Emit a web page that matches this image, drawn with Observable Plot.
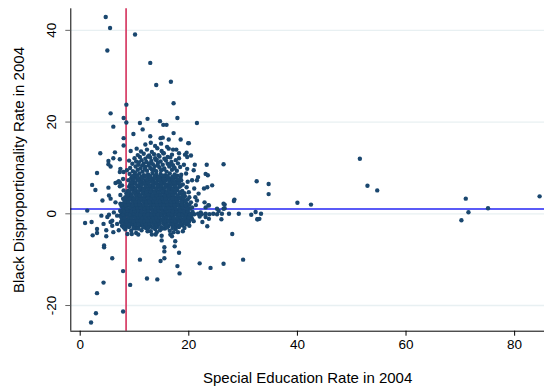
<!DOCTYPE html>
<html><head><meta charset="utf-8">
<script src="https://cdn.jsdelivr.net/npm/d3@7"></script>
<script src="https://cdn.jsdelivr.net/npm/@observablehq/plot@0.6"></script>
<style>
html,body{margin:0;padding:0;background:#fff;}
#chart{width:544px;height:389px;}
</style></head><body><div id="chart"></div>
<script>
const xTicks = [0, 20, 40, 60, 80];
const yTicks = [-20, 0, 20, 40];
const xTitle = "Special Education Rate in 2004";
const yTitle = "Black Disproportionality Rate in 2004";
const refX = 8.45;   // vertical reference line
const refY = 1.05;   // horizontal reference line

// points above / right of the main cloud
const upperPts = [[4.7,42.9],[5.5,40.5],[10.1,39.1],[5.0,35.6],[12.9,32.9],[16.7,28.8],[14.0,28.1],[8.5,23.8],[17.2,24.1],[5.6,21.9],[8.0,20.9],[12.4,20.7],[17.9,20.9],[8.5,19.9],[11.0,19.8],[14.7,20.2],[15.3,19.4],[15.9,19.4],[21.5,19.8],[6.1,19.0],[11.5,18.4],[9.8,17.4],[8.0,16.5],[12.9,16.9],[14.8,16.5],[15.2,16.6],[16.3,16.2],[18.5,16.2],[17.2,17.6],[19.9,15.4],[8.0,14.9],[3.7,13.2],[6.4,13.4],[5.2,11.5],[6.1,12.1],[7.3,11.9],[5.6,10.3],[5.2,10.8],[26.4,10.8],[32.5,7.1],[3.1,8.9],[2.2,6.3],[2.8,5.2],[4.1,2.9],[5.2,5.7],[5.3,4.0],[1.3,0.7],[6.5,6.7],[7.3,6.8],[7.3,9.1],[23.1,8.7],[23.5,8.4],[22.8,5.5],[24.3,6.2],[21.1,10.7],[21.7,8.0],[21.5,7.3],[28.4,3.1],[22.9,2.5],[23.6,1.9],[26.6,2.0],[26.6,1.2],[31.5,-0.2],[32.3,0.4],[33.0,-1.1],[33.3,0],[32.7,-1.2],[23.3,10.7],[20.4,12.7],[19.6,13.3],[19.3,12.9],[18.2,13.2],[18.2,12.1],[19.7,12.4],[19.1,10.7],[17.7,14.0],[17.1,14.0],[16.3,14.2],[15.3,13.2],[16.1,12.4],[20.0,15.4],[34.7,6.5],[34.7,4.3],[40.0,2.4],[42.5,2.0],[51.5,12.0],[52.9,6.1],[54.7,5.1],[71.0,3.3],[71.5,0.35],[70.2,-1.4],[75.1,1.2],[84.6,3.8]];

// points below / left of the main cloud
const lowerPts = [[0.9,-2.0],[2.1,-1.8],[3.1,-3.3],[3.1,-4.2],[2.3,-4.7],[4.8,-4.9],[4.4,-6.9],[4.4,-7.3],[5.9,-9.7],[7.9,-12.5],[4.3,-15.0],[3.1,-17.3],[2.9,-21.7],[7.9,-21.3],[2.0,-23.7],[9.2,-15.5],[11.0,-10.0],[12.3,-14.1],[14.2,-14.3],[14.8,-10.3],[15.5,-9.7],[15.5,-7.3],[15.5,-8.2],[15.0,-5.8],[17.5,-6.0],[17.4,-7.1],[18.2,-8.5],[17.9,-11.4],[18.3,-13.0],[22.0,-10.8],[24.0,-11.8],[26.4,-10.9],[30.0,-10.0],[28.0,-4.4],[23.4,-2.7],[22.5,-1.8],[26.0,-1.2],[27.4,0],[29.2,0],[32.6,-1.2],[26.4,2.2],[26.4,1.1],[28.3,2.8],[8.7,-4.4],[9.5,-4.4],[10.3,-4.2],[10.7,-4.5],[12.4,-3.8],[13.2,-4.5],[13.9,-4.5],[14.1,-4.0],[15.0,-4.8],[16.6,-4.5],[16.9,-4.9],[17.2,-4.0],[18.0,-4.0],[18.9,-3.8],[20.1,-2.6],[20.9,-1.6],[4.3,-2.2],[4.8,-3.6],[25.2,1.1],[25.5,0.6],[26.1,0],[23.7,-1.1]];

// scattered points just left of / right of the cloud
const edgePts = [[6.9,6.9],[7.3,6.0],[5.6,3.3],[3.9,-0.4],[5.0,-0.7],[5.6,-1.8],[5.9,-2.6],[6.2,0.3],[6.8,-0.4],[7.4,0.7],[5.9,-1.5],[6.8,-2.2],[7.7,-2.6],[8.0,-1.1],[7.1,-3.6],[6.1,-4.0],[6.5,2.5],[7.4,2.2],[7.9,3.3],[7.4,4.1],[8.0,5.1],[7.7,6.2],[7.9,7.6],[8.0,9.1],[7.4,9.8],[7.1,7.1],[5.3,-0.2],[19.7,9.8],[20.9,9.5],[20.6,7.3],[20.0,4.7],[21.2,3.6],[21.5,2.9],[23.1,1.4],[23.7,1.8],[23.4,5.8],[20.3,-0.4],[20.6,-1.1],[20.0,-1.8],[22.2,0.3],[23.1,-0.7],[21.3,1.9],[21.0,5.5],[21.8,4.4],[22.0,-0.6],[18.2,-0.1],[18.9,0.0],[19.6,-0.1],[20.3,0.0],[21.0,-0.1],[21.7,0.0],[22.4,-0.1],[23.1,0.0],[23.8,-0.1],[24.5,0.0],[25.2,-0.1]];

// the dense cloud, first layer
const cloudPts = [
[8.3,-3.4],[9.4,-3.7],[10.2,-3.2],[11.3,-3.6],[12.1,-3.1],[13.0,-3.8],[13.8,-3.3],[14.7,-3.6],[15.6,-3.2],[16.5,-3.7],[17.6,-3.3],[19.2,-3.1],
[7.9,-2.5],[8.6,-2.8],[9.2,-2.4],[9.9,-2.7],[10.5,-2.9],[11.1,-2.5],[11.8,-2.6],[12.4,-2.3],[13.0,-2.8],[13.7,-2.6],[14.3,-2.4],[14.9,-2.9],[15.6,-2.5],[16.2,-2.7],[16.9,-2.4],[17.5,-2.8],[18.1,-2.6],[18.8,-2.5],[19.6,-2.3],
[7.5,-1.8],[8.2,-2.0],[8.9,-1.7],[9.5,-2.1],[10.2,-1.9],[10.8,-1.6],[11.4,-2.0],[12.1,-1.8],[12.7,-2.1],[13.4,-1.7],[14.0,-1.9],[14.6,-2.0],[15.3,-1.6],[15.9,-2.1],[16.6,-1.8],[17.2,-2.0],[17.8,-1.7],[18.5,-1.9],[19.2,-2.0],[20.0,-1.7],
[7.7,-1.1],[8.4,-1.3],[9.0,-1.0],[9.7,-1.4],[10.3,-1.2],[10.9,-0.9],[11.6,-1.3],[12.2,-1.1],[12.9,-1.4],[13.5,-1.0],[14.2,-1.2],[14.8,-1.3],[15.4,-1.0],[16.1,-1.4],[16.7,-1.1],[17.4,-1.2],[18.0,-0.9],[18.7,-1.3],[19.4,-1.1],[20.3,-1.2],
[7.4,-0.4],[8.1,-0.6],[8.8,-0.3],[9.4,-0.7],[10.0,-0.5],[10.7,-0.2],[11.3,-0.6],[11.9,-0.4],[12.6,-0.7],[13.2,-0.3],[13.9,-0.5],[14.5,-0.6],[15.1,-0.3],[15.8,-0.7],[16.4,-0.4],[17.1,-0.5],[17.7,-0.2],[18.4,-0.6],[19.0,-0.4],[19.7,-0.5],[20.5,-0.3],
[7.6,0.3],[8.3,0.1],[9.0,0.4],[9.6,0.0],[10.2,0.2],[10.9,0.5],[11.5,0.1],[12.1,0.3],[12.8,0.0],[13.4,0.4],[14.1,0.2],[14.7,0.1],[15.3,0.4],[16.0,0.0],[16.6,0.3],[17.3,0.2],[17.9,0.5],[18.6,0.1],[19.2,0.3],[19.9,0.2],[20.7,0.4],
[7.8,0.8],[8.5,1.0],[9.1,0.7],[9.8,1.1],[10.4,0.9],[11.0,0.6],[11.7,1.0],[12.3,0.8],[13.0,1.1],[13.6,0.7],[14.3,0.9],[14.9,1.0],[15.5,0.7],[16.2,1.1],[16.8,0.8],[17.5,0.9],[18.1,0.6],[18.8,1.0],[19.5,0.8],[20.2,1.1],
[7.6,1.7],[8.2,1.5],[8.9,1.8],[9.5,1.4],[10.1,1.6],[10.8,1.9],[11.4,1.5],[12.0,1.7],[12.7,1.4],[13.3,1.8],[14.0,1.6],[14.6,1.5],[15.2,1.8],[15.9,1.4],[16.5,1.7],[17.2,1.6],[17.8,1.9],[18.5,1.5],[19.1,1.7],[19.8,1.6],[20.6,1.4],
[7.9,2.2],[8.6,2.4],[9.2,2.1],[9.9,2.5],[10.5,2.3],[11.1,2.0],[11.8,2.4],[12.4,2.2],[13.1,2.5],[13.7,2.1],[14.4,2.3],[15.0,2.4],[15.6,2.1],[16.3,2.5],[16.9,2.2],[17.6,2.3],[18.2,2.0],[18.9,2.4],[19.6,2.2],[20.4,2.5],
[8.1,3.1],[8.8,2.9],[9.4,3.2],[10.1,2.8],[10.7,3.0],[11.3,3.3],[12.0,2.9],[12.6,3.1],[13.3,2.8],[13.9,3.2],[14.6,3.0],[15.2,2.9],[15.8,3.2],[16.5,2.8],[17.1,3.1],[17.8,3.0],[18.4,3.3],[19.1,2.9],[19.8,3.1],
[8.3,3.6],[9.0,3.8],[9.6,3.5],[10.3,3.9],[10.9,3.7],[11.5,3.4],[12.2,3.8],[12.8,3.6],[13.5,3.9],[14.1,3.5],[14.8,3.7],[15.4,3.8],[16.0,3.5],[16.7,3.9],[17.3,3.6],[18.0,3.7],[18.6,3.4],[19.3,3.8],[20.1,3.6],
[8.5,4.5],[9.3,4.3],[10.0,4.6],[10.8,4.2],[11.5,4.4],[12.3,4.7],[13.0,4.3],[13.8,4.5],[14.5,4.2],[15.3,4.6],[16.0,4.4],[16.8,4.3],[17.5,4.6],[18.3,4.4],[19.2,4.5],
[8.8,5.0],[9.6,5.3],[10.4,4.9],[11.1,5.2],[11.9,5.0],[12.6,5.3],[13.4,4.9],[14.1,5.1],[14.9,5.2],[15.6,4.9],[16.4,5.3],[17.1,5.0],[17.9,5.2],[18.8,5.0],
[9.0,5.9],[9.8,5.7],[10.6,6.0],[11.3,5.6],[12.1,5.8],[12.8,6.1],[13.6,5.7],[14.3,5.9],[15.1,5.6],[15.8,6.0],[16.6,5.8],[17.4,5.7],[18.3,5.9],[19.6,5.8],
[9.2,6.4],[10.1,6.6],[10.9,6.3],[11.6,6.7],[12.4,6.5],[13.1,6.2],[13.9,6.6],[14.6,6.4],[15.4,6.7],[16.2,6.3],[17.0,6.5],[17.9,6.6],[18.9,6.4],
[8.9,7.3],[9.7,7.1],[10.5,7.4],[11.3,7.0],[12.0,7.2],[12.8,7.5],[13.5,7.1],[14.3,7.3],[15.1,7.0],[15.9,7.4],[16.8,7.2],[17.7,7.1],[18.6,7.3],[19.8,7.0],
[9.4,7.8],[10.2,8.0],[11.0,7.7],[11.8,8.1],[12.6,7.9],[13.3,7.6],[14.1,8.0],[14.9,7.8],[15.7,8.1],[16.6,7.7],[17.5,7.9],[18.5,8.0],
[9.1,8.7],[10.0,8.5],[10.9,8.8],[11.7,8.4],[12.5,8.6],[13.3,8.9],[14.0,8.5],[14.8,8.7],[15.7,8.4],[16.5,8.8],[17.4,8.6],[18.6,8.5],[19.5,8.8],
[8.6,9.5],[9.7,9.3],[10.6,9.6],[11.5,9.2],[12.3,9.4],[13.2,9.7],[14.0,9.3],[14.9,9.5],[15.9,9.2],[16.9,9.6],[17.8,9.4],
[9.2,10.0],[10.2,10.3],[11.1,9.9],[12.0,10.2],[12.9,10.0],[13.7,10.4],[14.6,10.1],[15.5,9.9],[16.4,10.3],[17.4,10.0],[18.4,10.2],
[9.6,10.9],[10.7,10.7],[11.7,11.0],[12.6,10.6],[13.4,10.8],[14.3,11.1],[15.2,10.7],[16.1,10.9],[17.1,10.6],[18.0,11.0],
[9.0,11.6],[10.3,11.4],[11.3,11.7],[12.2,11.3],[13.1,11.5],[13.9,11.8],[14.8,11.4],[15.8,11.6],[16.8,11.3],[17.6,11.7],
[10.0,12.1],[11.0,12.4],[12.0,12.0],[12.9,12.3],[13.8,12.1],[14.6,12.5],[15.5,12.0],[16.6,12.3],
[10.6,12.8],[11.7,13.1],[12.7,12.7],[13.6,13.0],[14.4,12.8],[15.4,13.2],[16.9,12.9],
[11.2,13.6],[12.3,14.0],[13.2,13.5],[14.2,14.3],[15.0,13.7],[13.8,14.8],[12.0,15.1],[14.9,15.3],[16.0,14.6],[10.4,14.2],[13.0,15.5],[9.3,13.7]
];

// the dense cloud, second layer (between the rows of the first)
const cloudPts2 = [
[8.0,-3.0],[9.0,-2.9],[9.8,-3.1],[10.7,-3.2],[11.6,-2.9],[12.5,-3.1],[13.4,-3.0],[14.2,-2.9],[15.1,-3.2],[16.0,-3.0],[17.0,-3.1],[18.2,-2.9],
[8.2,-2.2],[8.9,-2.3],[9.6,-2.1],[10.2,-2.3],[10.8,-2.2],[11.5,-2.1],[12.1,-2.3],[12.8,-2.2],[13.4,-2.1],[14.0,-2.3],[14.6,-2.2],[15.3,-2.1],[15.9,-2.3],[16.6,-2.2],[17.2,-2.1],[17.8,-2.3],[18.5,-2.2],[19.3,-2.1],
[7.8,-1.5],[8.5,-1.6],[9.2,-1.4],[9.8,-1.6],[10.5,-1.5],[11.1,-1.4],[11.8,-1.6],[12.4,-1.5],[13.1,-1.4],[13.7,-1.6],[14.3,-1.5],[15.0,-1.4],[15.6,-1.6],[16.3,-1.5],[16.9,-1.4],[17.5,-1.6],[18.2,-1.5],[18.9,-1.4],[19.7,-1.5],
[7.6,-0.8],[8.2,-0.9],[8.9,-0.7],[9.5,-0.9],[10.2,-0.8],[10.8,-0.7],[11.4,-0.9],[12.1,-0.8],[12.7,-0.7],[13.4,-0.9],[14.0,-0.8],[14.6,-0.7],[15.3,-0.9],[15.9,-0.8],[16.6,-0.7],[17.2,-0.9],[17.9,-0.8],[18.5,-0.7],[19.2,-0.9],[20.0,-0.8],
[7.9,-0.1],[8.6,0.0],[9.2,-0.2],[9.9,0.0],[10.5,-0.1],[11.1,-0.2],[11.8,0.0],[12.4,-0.1],[13.1,-0.2],[13.7,0.0],[14.3,-0.1],[15.0,-0.2],[15.6,0.0],[16.3,-0.1],[16.9,-0.2],[17.5,0.0],[18.2,-0.1],[18.9,-0.2],[19.5,0.0],[20.2,-0.1],
[7.4,0.6],[8.1,0.5],[8.8,0.7],[9.4,0.5],[10.1,0.6],[10.7,0.7],[11.3,0.5],[12.0,0.6],[12.6,0.7],[13.3,0.5],[13.9,0.6],[14.5,0.7],[15.2,0.5],[15.8,0.6],[16.5,0.7],[17.1,0.5],[17.8,0.6],[18.4,0.7],[19.1,0.5],[19.8,0.6],
[7.9,1.3],[8.6,1.2],[9.3,1.4],[9.9,1.2],[10.6,1.3],[11.2,1.4],[11.8,1.2],[12.5,1.3],[13.1,1.4],[13.8,1.2],[14.4,1.3],[15.0,1.4],[15.7,1.2],[16.3,1.3],[17.0,1.4],[17.6,1.2],[18.3,1.3],[18.9,1.4],[19.6,1.2],
[7.7,2.0],[8.4,1.9],[9.0,2.1],[9.7,1.9],[10.3,2.0],[10.9,2.1],[11.6,1.9],[12.2,2.0],[12.9,2.1],[13.5,1.9],[14.2,2.0],[14.8,2.1],[15.4,1.9],[16.1,2.0],[16.7,2.1],[17.4,1.9],[18.0,2.0],[18.7,2.1],[19.4,1.9],[20.1,2.0],
[8.2,2.7],[8.9,2.6],[9.6,2.8],[10.2,2.6],[10.9,2.7],[11.5,2.8],[12.2,2.6],[12.8,2.7],[13.5,2.8],[14.1,2.6],[14.7,2.7],[15.4,2.8],[16.0,2.6],[16.7,2.7],[17.3,2.8],[18.0,2.6],[18.7,2.7],[19.4,2.8],
[8.5,3.3],[9.2,3.4],[9.9,3.3],[10.5,3.5],[11.2,3.4],[11.8,3.3],[12.5,3.5],[13.1,3.4],[13.8,3.3],[14.4,3.5],[15.1,3.4],[15.7,3.3],[16.4,3.5],[17.0,3.4],[17.7,3.3],[18.3,3.5],[19.0,3.4],
[8.7,4.1],[9.5,4.0],[10.3,4.2],[11.0,4.0],[11.8,4.1],[12.5,4.2],[13.3,4.0],[14.0,4.1],[14.8,4.2],[15.6,4.0],[16.3,4.1],[17.1,4.2],[17.9,4.0],[18.8,4.1],
[9.1,4.8],[9.9,4.7],[10.7,4.9],[11.5,4.7],[12.2,4.8],[13.0,4.9],[13.7,4.7],[14.5,4.8],[15.2,4.9],[16.0,4.7],[16.7,4.8],[17.5,4.9],[18.4,4.7],
[9.4,5.5],[10.2,5.4],[11.0,5.6],[11.7,5.4],[12.5,5.5],[13.2,5.6],[14.0,5.4],[14.7,5.5],[15.5,5.6],[16.2,5.4],[17.0,5.5],[17.8,5.6],
[9.6,6.2],[10.5,6.1],[11.3,6.3],[12.0,6.1],[12.8,6.2],[13.5,6.3],[14.3,6.1],[15.0,6.2],[15.8,6.3],[16.6,6.1],[17.5,6.2],[18.5,6.1],
[9.4,6.9],[10.2,6.8],[11.0,7.0],[11.8,6.8],[12.5,6.9],[13.2,7.0],[14.0,6.8],[14.8,6.9],[15.6,7.0],[16.4,6.8],[17.3,6.9],[18.2,6.8],
[9.8,7.6],[10.7,7.5],[11.5,7.7],[12.3,7.5],[13.0,7.6],[13.8,7.7],[14.6,7.5],[15.4,7.6],[16.2,7.5],[17.1,7.6],[18.0,7.5],
[9.6,8.2],[10.5,8.3],[11.3,8.1],[12.1,8.3],[12.9,8.2],[13.7,8.3],[14.5,8.1],[15.3,8.3],[16.1,8.2],[17.0,8.1],[17.9,8.3],
[10.1,9.0],[11.9,9.8],[13.6,9.6],[15.4,9.7],[12.7,11.0],[14.3,10.5],[10.8,11.2],[16.6,10.8],[12.5,12.5],[14.1,11.8],[11.4,10.5],[17.2,9.9]
];

const points = [...upperPts, ...lowerPts, ...edgePts, ...cloudPts, ...cloudPts2].map(([x, y]) => ({x, y}));

const font = "'Liberation Sans', Arial, Helvetica, sans-serif";
const xMin = -1.73, xMax = 85.5, yMin = -25.6, yMax = 44.7;

const chart = Plot.plot({
  width: 544, height: 389,
  marginLeft: 70.3, marginRight: 0, marginTop: 8.3, marginBottom: 58.3,
  x: {domain: [xMin, xMax]},
  y: {domain: [yMin, yMax]},
  style: {fontFamily: font, background: "#fff", color: "#000"},
  marks: [
    Plot.ruleY(yTicks, {stroke: "#e8f0f2", strokeWidth: 1.3}),
    Plot.ruleX([refX], {stroke: "#d42f5a", strokeWidth: 1.6}),
    Plot.ruleY([refY], {stroke: "#5b5bf7", strokeWidth: 2}),
    Plot.dot(points, {x: "x", y: "y", r: 2.2, fill: "#1a476f", stroke: null}),
    Plot.ruleX([xMin], {stroke: "#000", strokeWidth: 1}),
    Plot.ruleY([yMin], {stroke: "#000", strokeWidth: 1}),
    Plot.axisX({ticks: xTicks, tickSize: 5, tickPadding: 3, fontSize: 13.5, label: null, stroke: "#000", fill: "#000"}),
    Plot.axisY({ticks: yTicks, tickSize: 5, tickFormat: () => "", label: null, stroke: "#666"}),
    Plot.text(yTicks, {y: d => d, text: d => String(d), frameAnchor: "left", dx: -19, rotate: -90, fontSize: 13.5, textAnchor: "middle", lineAnchor: "middle", fill: "#000"}),
    Plot.text([yTitle], {text: d => d, frameAnchor: "left", dx: -52, rotate: -90, fontSize: 15, textAnchor: "middle", lineAnchor: "middle", fill: "#000"}),
    Plot.text([xTitle], {text: d => d, frameAnchor: "bottom", dy: 47, fontSize: 15, textAnchor: "middle", lineAnchor: "middle", fill: "#000"})
  ]
});
document.getElementById("chart").appendChild(chart);
</script></body></html>
